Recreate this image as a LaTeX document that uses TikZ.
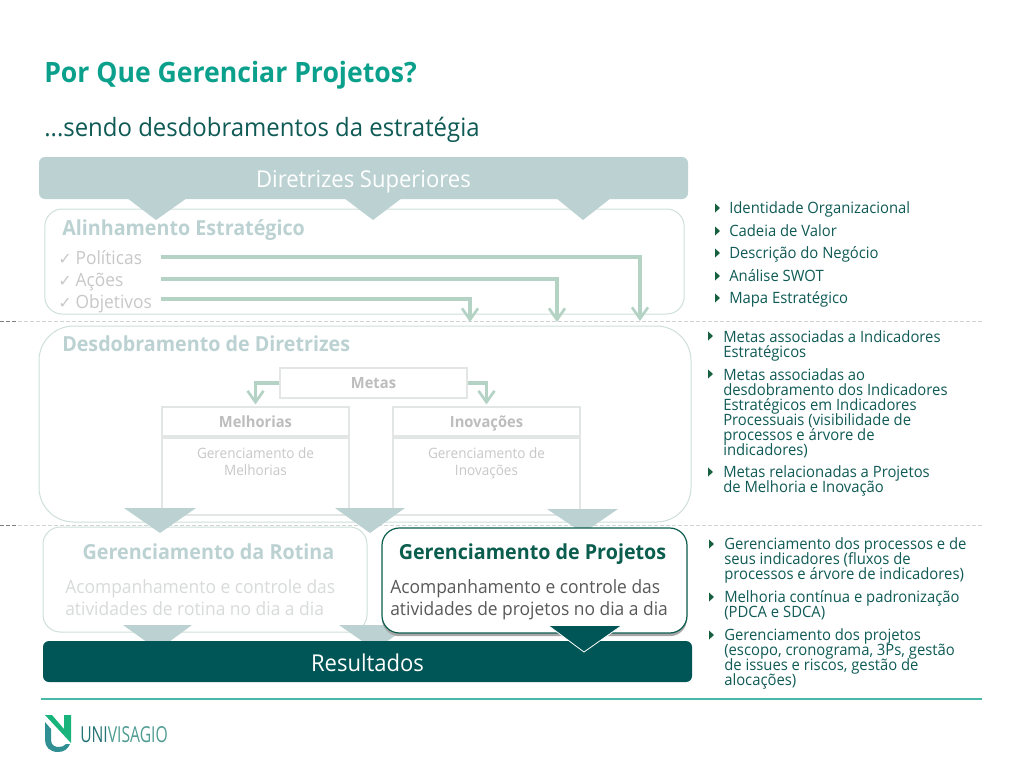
\documentclass[tikz,border=0pt]{standalone}
\usepackage{fontspec}
\setmainfont[FakeStretch=0.95]{Open Sans}
\newfontfamily\symfont{DejaVu Sans}
\usetikzlibrary{arrows.meta}
\lineskiplimit=-20pt
\normallineskiplimit=-20pt
\definecolor{pale}{HTML}{BCD2D2}
\definecolor{mint}{HTML}{B5D3C5}
\definecolor{edgepale}{HTML}{CFE0DA}
\definecolor{boxline}{HTML}{E2E6E4}
\definecolor{greybold}{HTML}{BDBDBD}
\definecolor{greytext}{HTML}{C8C8C8}
\definecolor{greylight}{HTML}{D8DBDA}
\definecolor{deep}{HTML}{005556}
\definecolor{rtext}{HTML}{0F5A55}
\definecolor{bulletc}{HTML}{17603F}
\definecolor{titlec}{HTML}{0BA08C}
\definecolor{dash}{HTML}{D0D4D2}
\definecolor{frame}{HTML}{0B5D4E}
\definecolor{logoa}{HTML}{2F8F93}
\definecolor{logob}{HTML}{18B47B}
\definecolor{logot}{HTML}{4E9C92}
\newcommand\tp{\rule{0pt}{14pt}}
\newcommand\bul[2]{\fill[bulletc] (#1,#2-4.5) -- ++(5,4.5) -- ++(-5,4.5) -- cycle;}
\newcommand\fs[2]{\fontsize{#1}{#2}\selectfont}
\newcommand\ck{{\symfont\fs{12}{16}✓}\hspace{-1.6pt}}
\tikzset{
  x=.75pt,y=-.75pt,
  softbox/.style={draw=edgepale,line width=.75pt,fill=white,rounded corners=#1,inner sep=0pt},
  bandbox/.style={fill=#1,rounded corners=4.5pt,inner sep=0pt,text=white},
  plainbox/.style={draw=boxline,line width=.8pt,fill=white,inner sep=0pt},
  flow/.style={draw=mint,line width=2.4pt,-{Straight Barb[length=8.5pt,width=12pt,line width=2pt]}},
  tri/.style={fill=pale},
  rtl/.style={anchor=north west,yshift=14pt,inner sep=0pt,align=left,text=rtext,font=\fs{11.7}{11.25}},
  headpale/.style={anchor=base west,inner sep=0pt,text=pale,font=\fs{15.55}{18}\bfseries},
  chk/.style={anchor=base west,inner sep=0pt,text=greytext,font=\fs{13.7}{16},text width=76.5pt},
  bodyl/.style={anchor=north west,yshift=14pt,inner sep=0pt,align=left,font=\fs{13.75}{16.6}},
  gbody/.style={anchor=north,yshift=14pt,inner sep=0pt,align=center,text=greytext,font=\fs{10.7}{12.8}},
  gbold/.style={font=\fs{11.6}{13}\bfseries,text=greybold,text height=8.6pt,text depth=.2pt},
  sep/.style={draw=dash,line width=.75pt,dash pattern=on 3pt off 1.5pt},
  sepdark/.style={draw=gray,line width=.75pt,dash pattern=on 3pt off 1.5pt}
}
\begin{document}
\begin{tikzpicture}
\useasboundingbox (0,0) rectangle (1024,768);
\fill[white] (0,0) rectangle (1024,768);
% titles
\node[anchor=base west,inner sep=0pt,text=titlec,font=\fs{21}{24}\bfseries] (title) at (44,82) {Por Que Gerenciar Projetos?};
\node[anchor=base west,inner sep=0pt,text=rtext,font=\fs{18.9}{22}] (sub) at (44,136) {...sendo desdobramentos da estratégia};
% separators
\draw[sep] (18,321) -- (982,321);
\draw[sepdark] (0,321) -- (18,321);
\draw[sep] (18,525) -- (982,525);
\draw[sepdark] (0,525) -- (18,525);
% alinhamento
\node[softbox=13pt,minimum width=479.5pt,minimum height=78.75pt] (alin) at (364.5,261.5) {};
\node[headpale] (alint) at (62,235) {Alinhamento Estratégico};
\node[chk] (pol) at (58,264) {\ck{} Políticas};
\node[chk] (aco) at (58,286) {\ck{} Ações};
\node[chk] (obj) at (58,308) {\ck{} Objetivos};
\coordinate (pa) at (640,321);
\coordinate (aa) at (557,322);
\coordinate (oa) at (470,322);
% diretrizes
\fill[tri] (127,198) -- (187,198) -- (156,220) -- cycle;
\fill[tri] (344,198) -- (402,198) -- (373,220) -- cycle;
\fill[tri] (556,198) -- (611,198) -- (583,220) -- cycle;
\node[bandbox=pale,minimum width=486.75pt,minimum height=31.5pt,font=\fs{17.4}{20}] (dir) at (363.5,178) {\raisebox{-3pt}[8pt][0pt]{Diretrizes Superiores}};
% desdobramento
\node[softbox=26pt,minimum width=489pt,minimum height=147pt] (desd) at (365,424) {};
\node[headpale] (desdt) at (62,351) {Desdobramento de Diretrizes};
\draw[flow] (pol.east |- 0,257) -| (pa);
\draw[flow] (aco.east |- 0,279) -| (aa);
\draw[flow] (obj.east |- 0,299) -| (oa);
\node[plainbox,minimum width=140.25pt,minimum height=22.5pt,gbold] (metas) at (373.5,383) {Metas};
\node[plainbox,minimum width=140.25pt,minimum height=21.75pt,gbold] (melh) at (255.5,421.5) {Melhorias};
\node[plainbox,minimum width=140.25pt,minimum height=21.75pt,gbold] (inov) at (486.5,421.5) {Inovações};
\node[plainbox,minimum width=140.25pt,minimum height=57.75pt] (gmelh) at (255.5,476.5) {};
\node[plainbox,minimum width=140.25pt,minimum height=57.75pt] (ginov) at (486.5,476.5) {};
\node[gbody] (gmelht) at (255.5,458) {\tp Gerenciamento de\\Melhorias};
\node[gbody] (ginovt) at (486.5,458) {\tp Gerenciamento de\\Inovações};
\draw[flow,shorten >=1.5pt] (metas.west) -| (melh.north);
\draw[flow,shorten >=1.5pt] (metas.east) -| (inov.north);
% rotina
\node[softbox=13pt,minimum width=243pt,minimum height=78.75pt] (rot) at (205,579.5) {};
% mid triangles
\fill[tri] (124,508) -- (196,508) -- (160,533) -- cycle;
\fill[tri] (335,508) -- (405,508) -- (370,533) -- cycle;
\fill[tri] (547,509) -- (618,509) -- (583,533) -- cycle;
\node[anchor=base,inner sep=0pt,text=pale,font=\fs{15.6}{18}\bfseries] (rott) at (208.5,559) {Gerenciamento da Rotina};
\node[bodyl,text=greylight] (rotb) at (65,593) {\tp Acompanhamento e controle das\\atividades de rotina no dia a dia};
% lower pale triangles
\fill[tri] (123,625) -- (192,625) -- (158,650) -- cycle;
\fill[tri] (339,625) -- (410,625) -- (375,650) -- cycle;
% projetos
\node[draw=frame,line width=.9pt,fill=white,rounded corners=13pt,inner sep=0pt,minimum width=228.75pt,minimum height=78.75pt,
  preaction={draw=none,fill=black!35,transform canvas={yshift=-2.4pt}}] (proj) at (534.5,580.5) {};
\node[anchor=base,inner sep=0pt,text=frame,font=\fs{15.55}{18}\bfseries] (projt) at (532.5,559) {Gerenciamento de Projetos};
\node[bodyl,text=black!65] (projb) at (390,593) {\tp Acompanhamento e controle das\\atividades de projetos no dia a dia};
% resultados
\node[bandbox=deep,minimum width=486.75pt,minimum height=30.75pt,font=\fs{17.4}{20}] (res) at (367.5,661.5) {\raisebox{-3.5pt}[8pt][0pt]{Resultados}};
\draw[fill=deep,draw=none] (549,626) -- (621,626) -- (584,652) -- cycle;
\draw[white,line width=.6pt] (549,626) -- (584,652) -- (621,626);
% right texts
\bul{715}{208}\node[rtl] (r1) at (729,213) {\tp Identidade Organizacional};
\bul{715}{231}\node[rtl] (r2) at (729,236) {\tp Cadeia de Valor};
\bul{715}{253}\node[rtl] (r3) at (729,258) {\tp Descrição do Negócio};
\bul{715}{276}\node[rtl] (r4) at (729,281) {\tp Análise SWOT};
\bul{715}{298}\node[rtl] (r5) at (729,303) {\tp Mapa Estratégico};
\bul{708}{336}\node[rtl] (s1) at (723,342) {\tp Metas associadas a Indicadores\\Estratégicos};
\bul{708}{374}\node[rtl] (s2) at (723,380) {\tp Metas associadas ao\\desdobramento dos Indicadores\\Estratégicos em Indicadores\\Processuais (visibilidade de\\processos e árvore de\\indicadores)};
\bul{708}{472}\node[rtl] (s3) at (723,477) {\tp Metas relacionadas a Projetos\\de Melhoria e Inovação};
\bul{709}{544}\node[rtl] (t1) at (724,549) {\tp Gerenciamento dos processos e de\\seus indicadores (fluxos de\\processos e árvore de indicadores)};
\bul{709}{597}\node[rtl] (t2) at (724,602) {\tp Melhoria contínua e padronização\\(PDCA e SDCA)};
\bul{709}{635}\node[rtl] (t3) at (724,640) {\tp Gerenciamento dos projetos\\(escopo, cronograma, 3Ps, gestão\\de issues e riscos, gestão de\\alocações)};
% footer
\draw[draw=titlec!75,line width=1.1pt] (41,699) -- (982,699);
% logo
\fill[logoa] (45,722) -- (51,729) -- (51,740) .. controls (51,746) and (56,747) .. (59,747) .. controls (62,747) and (64,746) .. (66,744) -- (70,744) .. controls (68,749) and (64,752) .. (58,752) .. controls (50,752) and (45,747) .. (45,740) -- cycle;
\fill[logob] (45,715) -- (52,715) -- (64,729) -- (64,715) -- (71,715) -- (71,743) -- cycle;
\node[anchor=base west,inner sep=0pt,font=\fs{16.5}{18}] (logo) at (80,742) {\scalebox{.75}[1]{\color{logoa!80!black}UNI\color{logot}VISAGIO}};
\end{tikzpicture}
\end{document}
